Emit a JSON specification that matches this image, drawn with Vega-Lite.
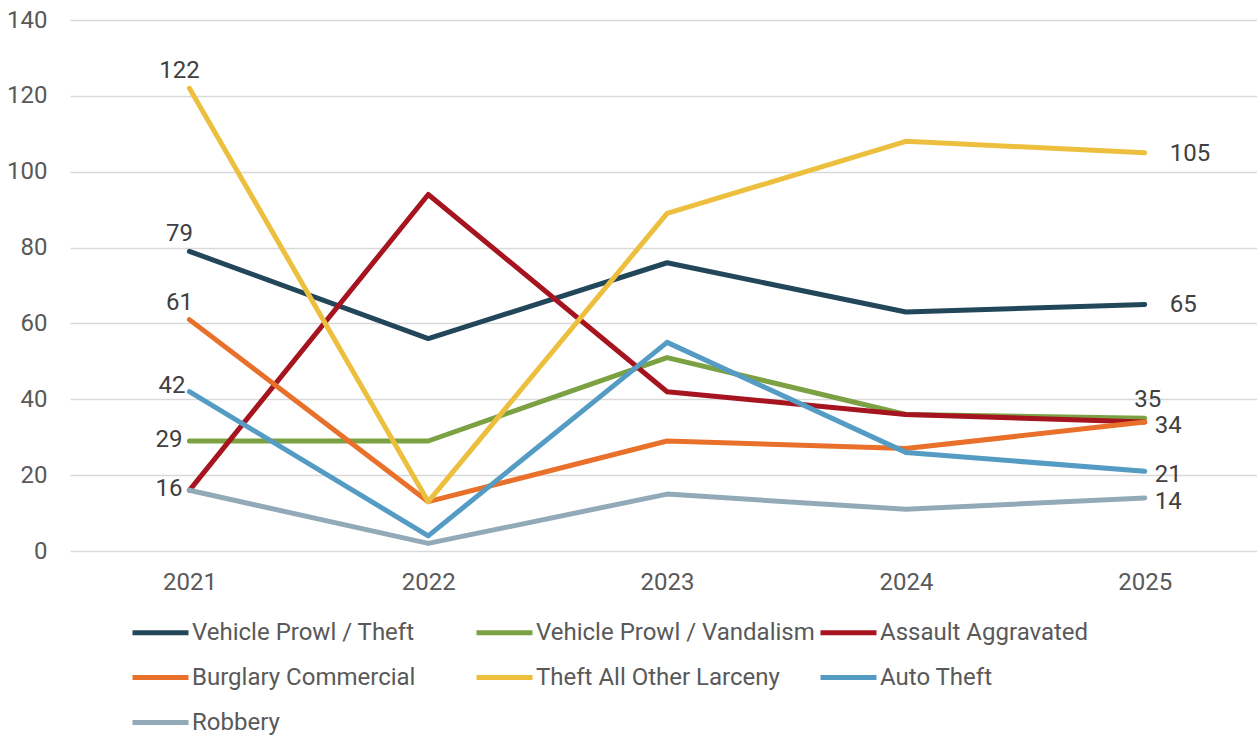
{
  "$schema": "https://vega.github.io/schema/vega-lite/v6.json",
  "width": 1187,
  "height": 531,
  "autosize": {"type": "none"},
  "padding": {"left": 70, "top": 20, "right": 0, "bottom": 184},
  "background": "white",
  "config": {
    "view": {"stroke": null},
    "font": "Roboto",
    "axis": {"labelFont": "Roboto", "labelFontSize": 24, "labelColor": "#595959"},
    "legend": {"labelFont": "Roboto"}
  },
  "data": {
    "values": [
      {"series": "Vehicle Prowl / Theft", "year": 2021, "value": 79},
      {"series": "Vehicle Prowl / Theft", "year": 2022, "value": 56},
      {"series": "Vehicle Prowl / Theft", "year": 2023, "value": 76},
      {"series": "Vehicle Prowl / Theft", "year": 2024, "value": 63},
      {"series": "Vehicle Prowl / Theft", "year": 2025, "value": 65},
      {"series": "Vehicle Prowl / Vandalism", "year": 2021, "value": 29},
      {"series": "Vehicle Prowl / Vandalism", "year": 2022, "value": 29},
      {"series": "Vehicle Prowl / Vandalism", "year": 2023, "value": 51},
      {"series": "Vehicle Prowl / Vandalism", "year": 2024, "value": 36},
      {"series": "Vehicle Prowl / Vandalism", "year": 2025, "value": 35},
      {"series": "Assault Aggravated", "year": 2021, "value": 16},
      {"series": "Assault Aggravated", "year": 2022, "value": 94},
      {"series": "Assault Aggravated", "year": 2023, "value": 42},
      {"series": "Assault Aggravated", "year": 2024, "value": 36},
      {"series": "Assault Aggravated", "year": 2025, "value": 34},
      {"series": "Burglary Commercial", "year": 2021, "value": 61},
      {"series": "Burglary Commercial", "year": 2022, "value": 13},
      {"series": "Burglary Commercial", "year": 2023, "value": 29},
      {"series": "Burglary Commercial", "year": 2024, "value": 27},
      {"series": "Burglary Commercial", "year": 2025, "value": 34},
      {"series": "Theft All Other Larceny", "year": 2021, "value": 122},
      {"series": "Theft All Other Larceny", "year": 2022, "value": 13},
      {"series": "Theft All Other Larceny", "year": 2023, "value": 89},
      {"series": "Theft All Other Larceny", "year": 2024, "value": 108},
      {"series": "Theft All Other Larceny", "year": 2025, "value": 105},
      {"series": "Auto Theft", "year": 2021, "value": 42},
      {"series": "Auto Theft", "year": 2022, "value": 4},
      {"series": "Auto Theft", "year": 2023, "value": 55},
      {"series": "Auto Theft", "year": 2024, "value": 26},
      {"series": "Auto Theft", "year": 2025, "value": 21},
      {"series": "Robbery", "year": 2021, "value": 16},
      {"series": "Robbery", "year": 2022, "value": 2},
      {"series": "Robbery", "year": 2023, "value": 15},
      {"series": "Robbery", "year": 2024, "value": 11},
      {"series": "Robbery", "year": 2025, "value": 14}
    ]
  },
  "encoding": {
    "x": {
      "field": "year", "type": "quantitative",
      "scale": {"domain": [2020.5, 2025.47], "nice": false, "zero": false},
      "axis": {"title": null, "values": [2021, 2022, 2023, 2024, 2025], "format": "d", "grid": false, "ticks": false, "domain": false, "labelBaseline": "middle", "labelPadding": 31}
    },
    "y": {
      "field": "value", "type": "quantitative",
      "scale": {"domain": [0, 140], "nice": false},
      "axis": {"title": null, "values": [0, 20, 40, 60, 80, 100, 120, 140], "grid": true, "gridColor": "#d9d9d9", "gridWidth": 1.5, "ticks": false, "domain": false, "labelPadding": 23, "labelBaseline": "middle"}
    }
  },
  "layer": [
    {
      "mark": {"type": "line", "strokeWidth": 5, "strokeCap": "round", "strokeJoin": "round"},
      "encoding": {
        "color": {
          "field": "series", "type": "nominal",
          "scale": {
            "domain": ["Vehicle Prowl / Theft", "Vehicle Prowl / Vandalism", "Assault Aggravated", "Burglary Commercial", "Theft All Other Larceny", "Auto Theft", "Robbery"],
            "range": ["#22465A", "#7BA143", "#A5141F", "#E8702A", "#ECC03E", "#559CC4", "#92AAB7"]
          },
          "legend": {
            "title": null, "orient": "none", "legendX": 60, "legendY": 582,
            "direction": "horizontal", "columns": 3, "gridAlign": "all", "columnPadding": -5, "rowPadding": 2,
            "symbolType": "stroke", "symbolSize": 3136, "symbolStrokeWidth": 5,
            "labelFontSize": 24, "labelColor": "#595959", "labelOffset": 1, "labelLimit": 400
          }
        }
      }
    },
    {
      "transform": [{"filter": "datum.year == 2021 && indexof(['Theft All Other Larceny', 'Vehicle Prowl / Theft', 'Burglary Commercial'], datum.series) >= 0"}],
      "mark": {"type": "text", "fontSize": 24, "color": "#404040", "align": "center", "baseline": "middle", "dx": -10, "dy": -17},
      "encoding": {"text": {"field": "value", "type": "quantitative"}}
    },
    {
      "transform": [{"filter": "datum.year == 2021 && datum.series == 'Auto Theft'"}],
      "mark": {"type": "text", "fontSize": 24, "color": "#404040", "align": "right", "baseline": "middle", "dx": -4, "dy": -6},
      "encoding": {"text": {"field": "value", "type": "quantitative"}}
    },
    {
      "transform": [{"filter": "datum.year == 2021 && (datum.series == 'Vehicle Prowl / Vandalism' || datum.series == 'Robbery')"}],
      "mark": {"type": "text", "fontSize": 24, "color": "#404040", "align": "right", "baseline": "middle", "dx": -7, "dy": -1},
      "encoding": {"text": {"field": "value", "type": "quantitative"}}
    },
    {
      "transform": [{"filter": "datum.year == 2025 && (datum.series == 'Theft All Other Larceny' || datum.series == 'Vehicle Prowl / Theft')"}],
      "mark": {"type": "text", "fontSize": 24, "color": "#404040", "align": "left", "baseline": "middle", "dx": 25, "dy": 1},
      "encoding": {"text": {"field": "value", "type": "quantitative"}}
    },
    {
      "transform": [{"filter": "datum.year == 2025 && datum.series == 'Vehicle Prowl / Vandalism'"}],
      "mark": {"type": "text", "fontSize": 24, "color": "#404040", "align": "center", "baseline": "middle", "dx": 3, "dy": -18},
      "encoding": {"text": {"field": "value", "type": "quantitative"}}
    },
    {
      "transform": [{"filter": "datum.year == 2025 && indexof(['Burglary Commercial', 'Auto Theft', 'Robbery'], datum.series) >= 0"}],
      "mark": {"type": "text", "fontSize": 24, "color": "#404040", "align": "left", "baseline": "middle", "dx": 10, "dy": 4},
      "encoding": {"text": {"field": "value", "type": "quantitative"}}
    }
  ]
}
